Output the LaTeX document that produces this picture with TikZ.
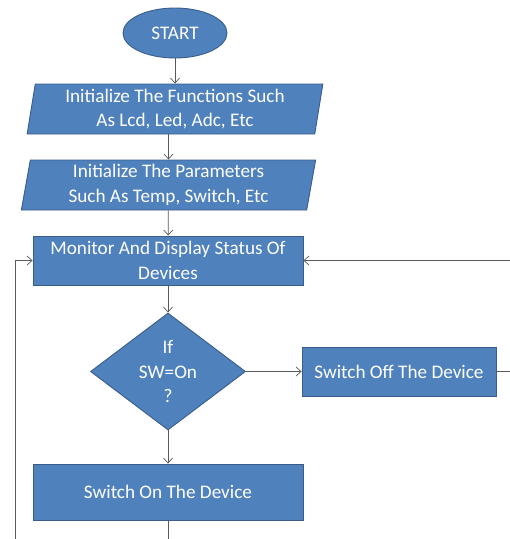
\documentclass[tikz,border=0pt]{standalone}
\usepackage{fontspec}
\setmainfont{Carlito}
\usetikzlibrary{shapes.geometric,arrows.meta}
\definecolor{boxfill}{HTML}{4F81BD}
\definecolor{boxline}{HTML}{385D8A}
\definecolor{wire}{HTML}{595959}
\tikzset{
  base/.style={fill=boxfill, draw=boxline, line width=0.9pt, text=white,
    font=\fontsize{19.2}{24.5}\selectfont, align=center, inner sep=0pt},
  termbox/.style={base, ellipse, minimum width=104pt, minimum height=50pt},
  iobox/.style={base, trapezium, trapezium left angle=81, trapezium right angle=99,
    trapezium stretches=true, minimum height=50pt},
  procbox/.style={base, rectangle, minimum height=49pt},
  decbox/.style={base, diamond, inner sep=-10pt, minimum width=155pt, minimum height=117pt},
  arr/.style={draw=wire, line width=0.7pt, -{Straight Barb[length=5pt,width=9pt]}},
  wireline/.style={draw=wire, line width=0.7pt}
}
\begin{document}
\begin{tikzpicture}[x=1pt, y=-1pt]
\useasboundingbox (0,0) rectangle (510,539);
\clip (0,0) rectangle (510,539);
\node[termbox] (start) at (175,33) {START};
\node[iobox, minimum width=296pt] (init1) at (175,109)
  {Initialize The Functions Such\\As Lcd, Led, Adc, Etc};
\node[iobox, minimum width=295pt] (init2) at (168.5,185)
  {Initialize The Parameters\\Such As Temp, Switch, Etc};
\node[procbox, minimum width=270pt] (monitor) at (168,260.5)
  {Monitor And Display Status Of\\Devices};
\node[decbox] (check) at (168,371.5) {If\\SW=On\\?};
\node[procbox, minimum width=194pt] (off) at (399,371.5) {Switch Off The Device};
\node[procbox, minimum width=270pt, minimum height=56pt] (on) at (168,492)
  {Switch On The Device};
\coordinate (exitR) at (530,371.5);
\coordinate (exitB) at (168,560);
\coordinate (loopL) at (15,560);

\draw[arr] (start) -- (init1);
\draw[arr] (init1.south -| init2.north) -- (init2.north);
\draw[arr] (init2) -- (monitor);
\draw[arr] (monitor) -- (check);
\draw[arr] (check) -- (off);
\draw[arr] (check) -- (on);
\draw[arr] (off.east) -- (exitR) |- (monitor.east);
\draw[wireline] (on) -- (exitB);
\draw[arr] (loopL) |- (monitor.west);
\end{tikzpicture}
\end{document}
